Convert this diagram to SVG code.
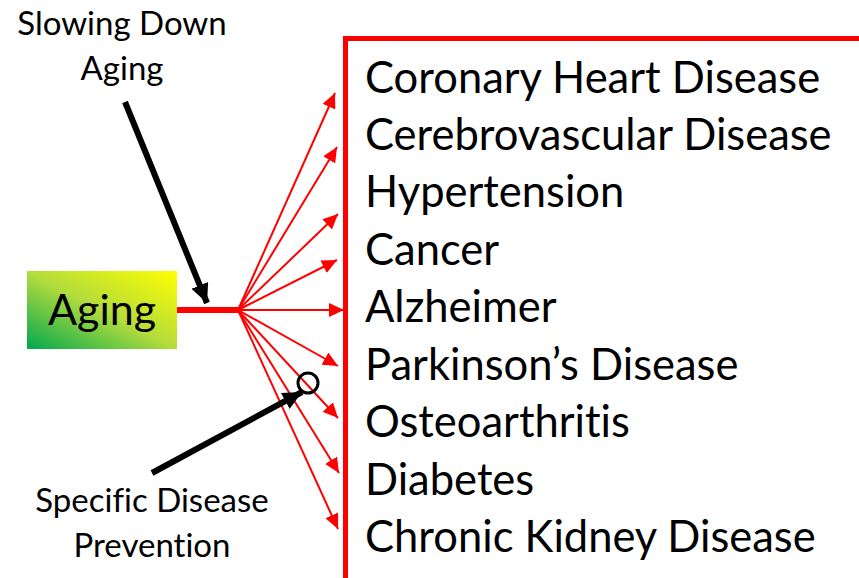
<svg xmlns="http://www.w3.org/2000/svg" width="859" height="578" viewBox="0 0 859 578">
<defs>
<linearGradient id="agingGrad" x1="0" y1="1" x2="1" y2="0">
<stop offset="0" stop-color="#00A84F"/>
<stop offset="0.5" stop-color="#B4DC3C"/>
<stop offset="1" stop-color="#FFFF00"/>
</linearGradient>
<marker id="redHead" markerUnits="userSpaceOnUse" markerWidth="16" markerHeight="14" refX="15" refY="7" orient="auto">
<path d="M0,0 L15,7 L0,14 Z" fill="#FF0000"/>
</marker>
<marker id="blackHead" markerUnits="userSpaceOnUse" markerWidth="20" markerHeight="18" refX="19" refY="9" orient="auto">
<path d="M0,0 L19,9 L0,18 Z" fill="#000000"/>
</marker>
<style>
.lbl{font-family:Lato,"Liberation Sans",sans-serif;fill:#000;font-variant-ligatures:none;font-feature-settings:"liga" 0,"clig" 0;}
.dis{font-size:43.5px;}
.side{font-size:33px;text-anchor:middle;}
.fan{stroke:#FF0000;stroke-width:2;fill:none;marker-end:url(#redHead);}
.blk{stroke:#000;stroke-width:6;fill:none;marker-end:url(#blackHead);}
</style>
</defs>
<rect width="859" height="578" fill="#FFFFFF"/>

<g id="aging">
<rect x="27" y="271" width="150" height="78" fill="url(#agingGrad)"/>
<text class="lbl" x="102" y="325" font-size="43" text-anchor="middle">Aging</text>
</g>

<g id="disease-box">
<rect x="345.5" y="38.5" width="600" height="600" fill="none" stroke="#FF0000" stroke-width="5"/>
<text class="lbl dis" x="365" y="93">Coronary Heart Disease</text>
<text class="lbl dis" x="365" y="150">Cerebrovascular Disease</text>
<text class="lbl dis" x="365" y="207">Hypertension</text>
<text class="lbl dis" x="365" y="265">Cancer</text>
<text class="lbl dis" x="365" y="322">Alzheimer</text>
<text class="lbl dis" x="365" y="380">Parkinson’s Disease</text>
<text class="lbl dis" x="365" y="437">Osteoarthritis</text>
<text class="lbl dis" x="365" y="495">Diabetes</text>
<text class="lbl dis" x="365" y="552">Chronic Kidney Disease</text>
</g>

<g id="slowing-label">
<text class="lbl side" x="122" y="35">Slowing Down</text>
<text class="lbl side" x="122" y="80">Aging</text>
</g>

<g id="prevention-label">
<text class="lbl side" x="152" y="512">Specific Disease</text>
<text class="lbl side" x="152" y="557">Prevention</text>
</g>

<g id="connectors">
<line x1="177" y1="310" x2="240" y2="310" stroke="#FF0000" stroke-width="6"/>
<line class="fan" x1="238" y1="310" x2="335" y2="93"/>
<line class="fan" x1="238" y1="310" x2="337" y2="147"/>
<line class="fan" x1="238" y1="310" x2="338" y2="214"/>
<line class="fan" x1="238" y1="310" x2="337" y2="260"/>
<line class="fan" x1="238" y1="310" x2="344" y2="310"/>
<line class="fan" x1="238" y1="310" x2="338" y2="366"/>
<line class="fan" x1="238" y1="310" x2="338" y2="418"/>
<line class="fan" x1="238" y1="310" x2="339" y2="473"/>
<line class="fan" x1="238" y1="310" x2="338" y2="529"/>
<line class="blk" x1="125" y1="102" x2="207" y2="303"/>
<line class="blk" x1="152" y1="473" x2="302" y2="392"/>
<circle cx="308" cy="383" r="10" fill="none" stroke="#000" stroke-width="3"/>
</g>
</svg>
